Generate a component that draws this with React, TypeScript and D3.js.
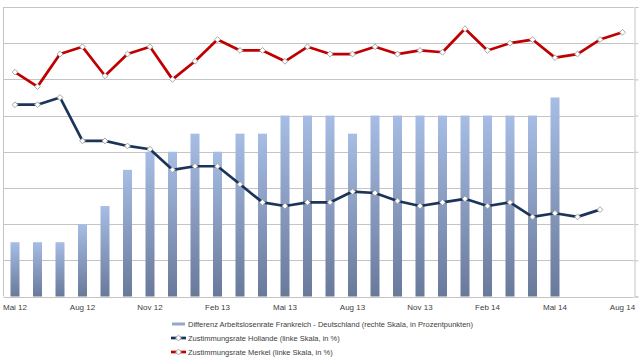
import { useEffect, useRef } from 'react';
import * as d3 from 'd3';

const months = ['Mai 12', 'Jun 12', 'Jul 12', 'Aug 12', 'Sep 12', 'Okt 12', 'Nov 12', 'Dez 12',
  'Jan 13', 'Feb 13', 'Mrz 13', 'Apr 13', 'Mai 13', 'Jun 13', 'Jul 13', 'Aug 13', 'Sep 13', 'Okt 13',
  'Nov 13', 'Dez 13', 'Jan 14', 'Feb 14', 'Mrz 14', 'Apr 14', 'Mai 14', 'Jun 14', 'Jul 14', 'Aug 14'];

// Differenz Arbeitslosenrate (rechte Skala)
const diffValues = [3.75, 3.75, 3.75, 4, 4.25, 4.75, 5, 5, 5.25, 5, 5.25, 5.25, 5.5, 5.5, 5.5, 5.25,
  5.5, 5.5, 5.5, 5.5, 5.5, 5.5, 5.5, 5.5, 5.75];

// Zustimmungsrate Hollande (linke Skala)
const hollande = [53, 53, 55, 43, 43, 41.6, 40.7, 35, 36, 36, 31, 26, 25, 26, 26, 29, 28.6, 26.4,
  25, 26, 27, 25, 26, 22, 23, 22, 24];

// Zustimmungsrate Merkel (linke Skala)
const merkel = [62, 58, 67, 69, 61, 67, 69, 60, 65, 71, 68, 68, 65, 69, 67, 67, 69, 67, 68, 67.5,
  74, 68, 70, 71, 66, 67, 71, 73];

const legendLabels = [
  'Differenz Arbeitslosenrate Frankreich - Deutschland (rechte Skala, in Prozentpunkten)',
  'Zustimmungsrate Hollande (linke Skala, in %)',
  'Zustimmungsrate Merkel (linke Skala, in %)',
];

const App = () => {
  const svgRef = useRef<SVGSVGElement | null>(null);

  useEffect(() => {
    const svg = d3.select(svgRef.current);
    svg.selectAll('*').remove();

    const left = 3.75, right = 633.75, top = 7, bottom = 296.5;
    const gridColor = '#c4c4c4';
    const red = '#c00000';
    const navy = '#1b355a';
    const font = "'Liberation Sans', Arial, sans-serif";

    const x = d3.scaleBand<string>()
      .domain(months)
      .range([left, right])
      .paddingInner(0.6)
      .paddingOuter(0.3);
    const cx = (i: number) => (x(months[i]) as number) + x.bandwidth() / 2;

    const yLeft = d3.scaleLinear().domain([0, 80]).range([bottom, top]);
    const yRight = d3.scaleLinear().domain([3, 7]).range([bottom, top]);

    const defs = svg.append('defs');
    const grad = defs.append('linearGradient')
      .attr('id', 'barGrad')
      .attr('x1', 0).attr('y1', 0).attr('x2', 0).attr('y2', 1);
    grad.append('stop').attr('offset', '0%').attr('stop-color', '#a7bde4');
    grad.append('stop').attr('offset', '100%').attr('stop-color', '#69799a');

    // gridlines
    svg.append('g')
      .selectAll('line')
      .data(yLeft.ticks(8).filter(d => d > 0))
      .enter().append('line')
      .attr('x1', left).attr('x2', right)
      .attr('y1', d => Math.round(yLeft(d)) + 0.5)
      .attr('y2', d => Math.round(yLeft(d)) + 0.5)
      .attr('stroke', gridColor)
      .attr('stroke-width', 1);

    // axes lines
    svg.append('g')
      .attr('transform', `translate(${Math.round(right) + 0.5},0)`)
      .call(d3.axisRight(yRight).ticks(8).tickSize(4).tickFormat(() => ''))
      .call(g => g.selectAll('line,path').attr('stroke', gridColor));
    svg.append('line')
      .attr('x1', Math.round(left) - 0.5).attr('x2', Math.round(left) - 0.5)
      .attr('y1', top).attr('y2', bottom)
      .attr('stroke', gridColor);
    svg.append('line')
      .attr('x1', left).attr('x2', right)
      .attr('y1', Math.round(bottom) + 0.5).attr('y2', Math.round(bottom) + 0.5)
      .attr('stroke', gridColor);

    // bars
    svg.append('g')
      .selectAll('rect')
      .data(diffValues)
      .enter().append('rect')
      .attr('x', (d, i) => x(months[i]) as number)
      .attr('width', x.bandwidth())
      .attr('y', d => yRight(d))
      .attr('height', d => bottom - yRight(d))
      .attr('fill', 'url(#barGrad)');

    const line = d3.line<number>()
      .x((d, i) => cx(i))
      .y(d => yLeft(d));

    const diamond = d3.symbol().type(d3.symbolSquare).size(17)();

    const drawSeries = (vals: number[], color: string) => {
      svg.append('path')
        .datum(vals)
        .attr('fill', 'none')
        .attr('stroke', color)
        .attr('stroke-width', 2.7)
        .attr('stroke-linejoin', 'round')
        .attr('d', line);
      svg.append('g')
        .selectAll('path')
        .data(vals)
        .enter().append('path')
        .attr('d', diamond)
        .attr('transform', (d, i) => `translate(${cx(i)},${yLeft(d)}) rotate(45)`)
        .attr('fill', '#ffffff')
        .attr('stroke', '#9a9a9a')
        .attr('stroke-width', 0.8);
    };
    drawSeries(hollande, navy);
    drawSeries(merkel, red);

    // x labels
    svg.append('g')
      .selectAll('text')
      .data(months.filter((m, i) => i % 3 === 0))
      .enter().append('text')
      .attr('x', d => (x(d) as number) + x.bandwidth() / 2)
      .attr('y', 310)
      .attr('text-anchor', 'middle')
      .attr('font-family', font)
      .attr('font-size', 8)
      .attr('fill', '#404040')
      .text(d => d);

    // legend
    const rowsY = [324, 338, 352];
    const lg = svg.append('g');
    lg.append('rect')
      .attr('x', 172).attr('y', rowsY[0] - 1.5)
      .attr('width', 13).attr('height', 3)
      .attr('fill', '#94a8cc');
    [navy, red].forEach((c, k) => {
      const yy = rowsY[k + 1];
      lg.append('line')
        .attr('x1', 171).attr('x2', 186)
        .attr('y1', yy).attr('y2', yy)
        .attr('stroke', c).attr('stroke-width', 2.7);
      lg.append('path')
        .attr('d', diamond)
        .attr('transform', `translate(178.5,${yy}) rotate(45)`)
        .attr('fill', '#ffffff')
        .attr('stroke', '#9a9a9a')
        .attr('stroke-width', 0.8);
    });
    lg.selectAll('text')
      .data(legendLabels)
      .enter().append('text')
      .attr('x', 188)
      .attr('y', (d, i) => rowsY[i] + 3)
      .attr('font-family', font)
      .attr('font-size', 7.5)
      .attr('fill', '#404040')
      .text(d => d);
  }, []);

  return (
    <svg ref={svgRef} width={640} height={360}
      style={{ position: 'absolute', left: 0, top: 0, background: '#ffffff' }} />
  );
};

export default App;
